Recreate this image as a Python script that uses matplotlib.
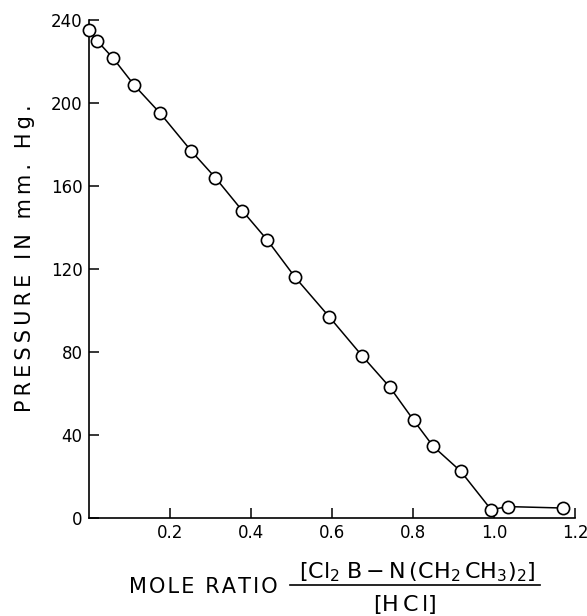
import matplotlib
matplotlib.use("Agg")
import matplotlib.pyplot as plt
from matplotlib.lines import Line2D

plt.rcParams['font.family'] = 'DejaVu Sans'
plt.rcParams['mathtext.fontset'] = 'dejavusans'

# values
moleRatio = [0.0, 0.02, 0.06, 0.112, 0.176, 0.252, 0.312, 0.379, 0.44, 0.509,
             0.593, 0.675, 0.743, 0.802, 0.85, 0.918, 0.993, 1.034, 1.171]
pressure = [235, 230, 221.5, 208.5, 195, 177, 164, 148, 134, 116,
            97, 78, 63, 47, 34.5, 22.5, 4, 5.5, 4.8]
xTicks = [0.2, 0.4, 0.6, 0.8, 1.0, 1.2]
xTickLabels = ['0.2', '0.4', '0.6', '0.8', '1.0', '1.2']
yTicks = [0, 40, 80, 120, 160, 200, 240]
yTickLabels = ['0', '40', '80', '120', '160', '200', '240']

W, H = 587, 616
fig = plt.figure(figsize=(W / 100, H / 100), dpi=100)
ax = fig.add_axes([89 / W, 1 - 518 / H, (575 - 89) / W, (518 - 20) / H])

ax.plot(moleRatio, pressure, color='k', lw=1.1, marker='o', ms=8.8,
        mfc='white', mec='k', mew=1.2, clip_on=False, zorder=3)

ax.set_xlim(0, 1.2)
ax.set_ylim(0, 240)
for side in ['top', 'right']:
    ax.spines[side].set_visible(False)
for side in ['left', 'bottom']:
    ax.spines[side].set_linewidth(1.2)

ax.set_xticks(xTicks)
ax.set_xticklabels(xTickLabels)
ax.set_yticks(yTicks)
ax.set_yticklabels(yTickLabels)
ax.tick_params(axis='both', direction='in', length=7, width=1.1, labelsize=12)
ax.tick_params(axis='x', pad=4)
ax.tick_params(axis='y', pad=4.5)

# spaced-out lettering like the original
thin = '\u2009'
hair = '\u200a'
ylab = thin.join('PRESSURE IN mm. Hg.')
fig.text(25 / W, 1 - 258 / H, ylab, rotation=90, ha='center', va='center',
         fontsize=15)

fig.text(203 / W, 1 - 587 / H, hair.join('MOLE RATIO'), ha='center',
         va='center', fontsize=15)
fig.text(417 / W, 1 - 572 / H,
         r'$[\mathrm{Cl_2\;B-N\,(CH_2\,CH_3)_2}]$',
         ha='center', va='center', fontsize=16)
fig.add_artist(Line2D([290 / W, 540 / W], [1 - 585 / H, 1 - 585 / H],
                      color='k', lw=1.2, transform=fig.transFigure))
fig.text(405 / W, 1 - 604 / H, r'$[\mathrm{H\,C\,l}]$', ha='center',
         va='center', fontsize=16)

fig.savefig('out.png', dpi=100)
